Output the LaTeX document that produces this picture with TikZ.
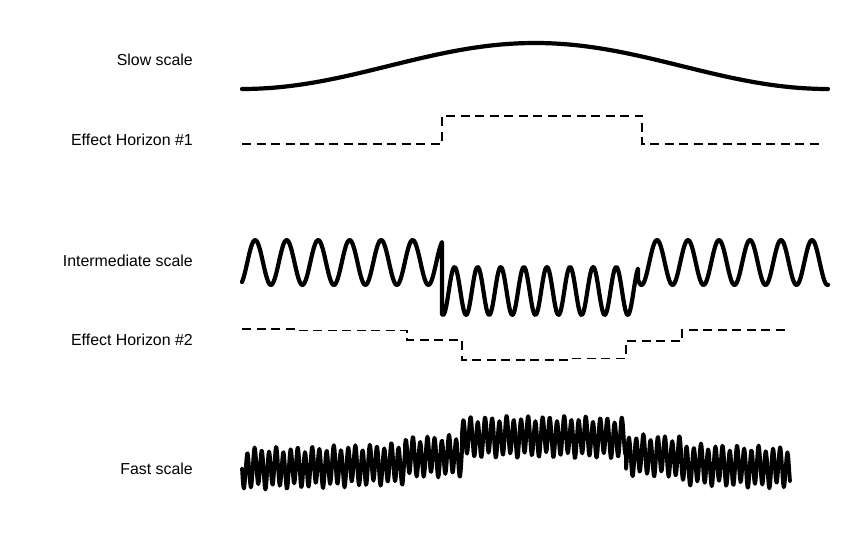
\documentclass[tikz,border=0pt]{standalone}
\usepackage{fontspec}
\setmainfont{Liberation Sans}
\tikzset{
  lbl/.style={anchor=base east, inner sep=0pt, font=\fontsize{15.9}{18}\selectfont},
  wave/.style={line width=4.2pt, line join=round, line cap=round},
  fastline/.style={wave, line width=3.8pt},
  horizon/.style={line width=1.6pt, dash pattern=on 9pt off 5.5pt}
}
\newcommand\fastwave[1]{#1 - 4*(1-cos((\x-242)/586*360)) + 18.5*sin(360*mod((\x-242)/7.2,1)) + 3*sin(360*mod((\x-242)/19.3,1))}

\begin{document}
\begin{tikzpicture}[x=1pt, y=-1pt]
  \useasboundingbox (0,0) rectangle (860,545);
  \foreach \name/\yb/\txt in {slow/65.7/Slow scale, hzone/145.7/Effect Horizon \#1,
      inter/266.7/Intermediate scale, hztwo/345.7/Effect Horizon \#2, fast/475/Fast scale}
    \node[lbl] (\name) at (193,\yb) {\txt};
  \draw[wave] plot[domain=242:828, samples=120] (\x,{89 - 23*(1-cos((\x-242)/586*360))});
  \draw[horizon] (242,144) -- (442,144) -- (442,116) -- (642,116) -- (642,144) -- (822,144);
  \draw[wave] plot[domain=242:442, samples=160] (\x,{262.5 - 22.5*sin((\x-242)/31.5*360 - 60.2)})
    -- plot[domain=442:638, samples=200] (\x,{291 + 24*cos((\x-443)/23.1*360)})
    -- plot[domain=638:828, samples=160] (\x,{262.5 - 22.5*cos((\x-657)/31*360)});
  \draw[horizon] (242,329.3) -- (296,329.3) -- (296,330.7) -- (407,330.7) -- (407,340)
    -- (462,340) -- (462,360) -- (571,360) -- (571,358.5) -- (626,358.5) -- (626,341)
    -- (682,341) -- (682,330) -- (790,330);
  \draw[fastline] plot[domain=242:405, samples=260] (\x,{\fastwave{468.4}})
    -- plot[domain=405:462, samples=90] (\x,{\fastwave{462.5}})
    -- plot[domain=462:626, samples=260] (\x,{\fastwave{444.7}})
    -- plot[domain=626:681, samples=90] (\x,{\fastwave{461}})
    -- plot[domain=681:790, samples=175] (\x,{\fastwave{468}});
\end{tikzpicture}
\end{document}
